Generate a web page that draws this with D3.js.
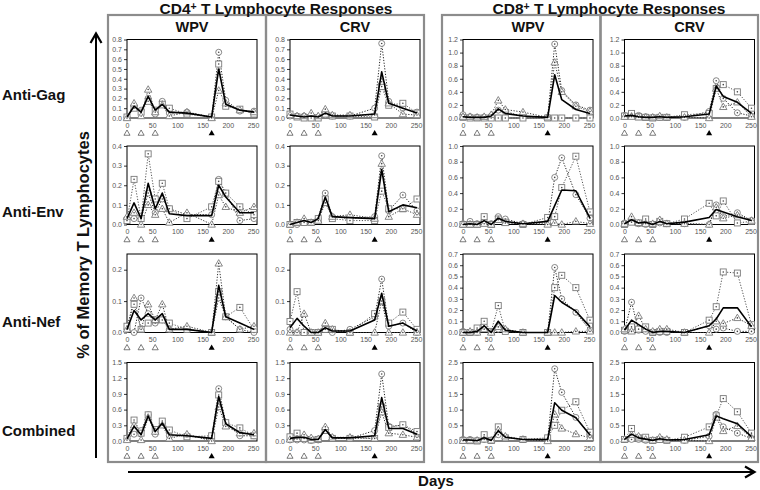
<!DOCTYPE html>
<html><head><meta charset="utf-8">
<script src="https://cdn.jsdelivr.net/npm/d3@7"></script>
<style>body{margin:0;background:#fff} svg{display:block;font-family:Arial,"Liberation Sans",sans-serif}</style>
</head><body><svg id="c" width="760" height="490"></svg>
<script>
const days = [0,14,28,42,56,70,84,119,168,182,196,224,252];
const xTicks = [0,50,100,150,200,250];
const primeDays = [0,28,56];
const boostDays = [168];
const rowNames = ["Anti-Gag","Anti-Env","Anti-Nef","Combined"];
const colNames = ["WPV","CRV","WPV","CRV"];
const yMaxCD4 = [0.8,0.4,0.25,1.5];
const yStepCD4 = [0.1,0.1,0.1,0.3];
const yMaxCD8 = [1.2,1.0,0.7,2.5];
const yStepCD8 = [0.2,0.2,0.1,0.5];
// each panel: [circle animal, square animal, triangle animal, mean]
const cd4WpvGag = [
 [0.01,0.12,0.08,0.20,0.04,0.17,0.05,0.06,0.01,0.67,0.18,0.07,0.07],
 [0.01,0.10,0.06,0.17,0.08,0.14,0.10,0.04,0.01,0.55,0.12,0.09,0.04],
 [0.00,0.15,0.02,0.29,0.06,0.13,0.02,0.06,0.00,0.28,0.15,0.08,0.06],
 [0.01,0.12,0.06,0.22,0.08,0.14,0.06,0.05,0.01,0.50,0.14,0.08,0.06]];
const cd4CrvGag = [
 [0.02,0.02,0.02,0.01,0.01,0.03,0.02,0.02,0.10,0.76,0.17,0.10,0.06],
 [0.04,0.01,0.00,0.00,0.00,0.04,0.02,0.02,0.01,0.32,0.13,0.15,0.05],
 [0.03,0.02,0.02,0.05,0.02,0.09,0.03,0.03,0.03,0.37,0.15,0.04,0.03],
 [0.03,0.02,0.01,0.02,0.01,0.05,0.02,0.02,0.04,0.47,0.15,0.10,0.05]];
const cd8WpvGag = [
 [0.05,0.02,0.01,0.01,0.03,0.12,0.10,0.02,0.01,1.13,0.42,0.20,0.12],
 [0.01,0.00,0.00,0.00,0.00,0.00,0.00,0.00,0.00,0.00,0.00,0.00,0.00],
 [0.02,0.02,0.01,0.02,0.05,0.27,0.13,0.09,0.01,0.85,0.40,0.18,0.10],
 [0.02,0.01,0.01,0.01,0.03,0.14,0.07,0.03,0.01,0.66,0.28,0.13,0.07]];
const cd8CrvGag = [
 [0.04,0.05,0.04,0.02,0.01,0.01,0.01,0.01,0.10,0.57,0.30,0.08,0.03],
 [0.03,0.07,0.02,0.01,0.00,0.01,0.01,0.05,0.07,0.45,0.51,0.40,0.15],
 [0.02,0.02,0.01,0.01,0.01,0.03,0.01,0.01,0.00,0.45,0.17,0.24,0.02],
 [0.03,0.04,0.02,0.01,0.01,0.02,0.01,0.02,0.06,0.49,0.33,0.24,0.07]];
const cd4WpvEnv = [
 [0.03,0.03,0.03,0.16,0.06,0.13,0.08,0.05,0.05,0.23,0.16,0.02,0.03],
 [0.02,0.23,0.03,0.36,0.13,0.21,0.08,0.03,0.09,0.22,0.16,0.09,0.05],
 [0.04,0.06,0.00,0.10,0.05,0.08,0.01,0.06,0.00,0.15,0.09,0.06,0.09],
 [0.03,0.11,0.03,0.21,0.08,0.16,0.055,0.045,0.045,0.20,0.14,0.06,0.06]];
const cd4CrvEnv = [
 [0.00,0.00,0.01,0.01,0.03,0.16,0.04,0.03,0.04,0.35,0.07,0.15,0.07],
 [0.00,0.01,0.01,0.01,0.03,0.13,0.03,0.02,0.02,0.17,0.08,0.08,0.13],
 [0.00,0.01,0.03,0.01,0.02,0.11,0.04,0.05,0.03,0.31,0.04,0.08,0.05],
 [0.00,0.01,0.02,0.01,0.03,0.14,0.04,0.035,0.03,0.28,0.065,0.10,0.085]];
const cd8WpvEnv = [
 [0.01,0.04,0.01,0.04,0.01,0.10,0.07,0.01,0.02,0.60,0.85,0.38,0.08],
 [0.00,0.00,0.00,0.10,0.00,0.07,0.03,0.00,0.09,0.10,0.47,0.87,0.16],
 [0.00,0.00,0.00,0.01,0.00,0.06,0.02,0.01,0.00,0.02,0.00,0.04,0.01],
 [0.00,0.01,0.00,0.05,0.00,0.08,0.04,0.01,0.04,0.24,0.44,0.43,0.08]];
const cd8CrvEnv = [
 [0.02,0.05,0.01,0.00,0.00,0.02,0.01,0.01,0.00,0.25,0.10,0.15,0.05],
 [0.00,0.03,0.02,0.07,0.00,0.04,0.01,0.07,0.27,0.11,0.30,0.02,0.04],
 [0.01,0.10,0.02,0.01,0.01,0.06,0.01,0.01,0.00,0.22,0.08,0.12,0.05],
 [0.01,0.06,0.02,0.03,0.00,0.04,0.01,0.03,0.09,0.19,0.16,0.10,0.05]];
const cd4WpvNef = [
 [0.01,0.00,0.11,0.06,0.03,0.04,0.01,0.01,0.00,0.11,0.05,0.01,0.00],
 [0.02,0.09,0.01,0.03,0.04,0.04,0.03,0.01,0.00,0.13,0.05,0.08,0.01],
 [0.01,0.11,0.01,0.09,0.04,0.09,0.01,0.02,0.00,0.22,0.05,0.01,0.02],
 [0.01,0.07,0.04,0.06,0.04,0.06,0.01,0.01,0.00,0.15,0.05,0.03,0.01]];
const cd4CrvNef = [
 [0.01,0.00,0.00,0.00,0.00,0.01,0.00,0.01,0.05,0.17,0.02,0.03,0.00],
 [0.035,0.13,0.00,0.00,0.00,0.01,0.01,0.00,0.06,0.10,0.03,0.065,0.01],
 [0.00,0.00,0.06,0.00,0.00,0.03,0.01,0.00,0.00,0.10,0.00,0.00,0.00],
 [0.015,0.045,0.02,0.00,0.00,0.015,0.005,0.005,0.04,0.125,0.02,0.03,0.005]];
const cd8WpvNef = [
 [0.01,0.00,0.00,0.06,0.00,0.03,0.02,0.00,0.00,0.58,0.30,0.18,0.02],
 [0.00,0.00,0.04,0.10,0.01,0.24,0.01,0.00,0.00,0.40,0.51,0.40,0.11],
 [0.00,0.01,0.00,0.03,0.00,0.05,0.03,0.00,0.00,0.00,0.00,0.01,0.01],
 [0.00,0.00,0.01,0.06,0.00,0.10,0.02,0.00,0.00,0.33,0.27,0.19,0.05]];
const cd8CrvNef = [
 [0.01,0.27,0.02,0.01,0.00,0.00,0.00,0.00,0.06,0.03,0.04,0.01,0.01],
 [0.02,0.05,0.03,0.05,0.00,0.01,0.01,0.00,0.11,0.23,0.54,0.53,0.07],
 [0.03,0.01,0.15,0.03,0.01,0.03,0.03,0.00,0.00,0.10,0.08,0.13,0.06],
 [0.02,0.11,0.07,0.03,0.00,0.01,0.01,0.00,0.06,0.12,0.22,0.22,0.05]];
const cd4WpvAll = [
 [0.04,0.13,0.20,0.50,0.13,0.33,0.10,0.10,0.03,1.00,0.35,0.10,0.10],
 [0.05,0.40,0.15,0.50,0.22,0.38,0.21,0.08,0.10,0.88,0.35,0.25,0.10],
 [0.02,0.30,0.02,0.45,0.18,0.30,0.05,0.13,0.00,0.65,0.28,0.15,0.15],
 [0.04,0.28,0.12,0.48,0.18,0.34,0.12,0.10,0.05,0.85,0.33,0.16,0.12]];
const cd4CrvAll = [
 [0.02,0.02,0.02,0.01,0.02,0.20,0.06,0.05,0.20,1.28,0.28,0.30,0.14],
 [0.08,0.15,0.05,0.02,0.03,0.20,0.05,0.05,0.05,0.65,0.26,0.31,0.18],
 [0.03,0.04,0.12,0.06,0.04,0.27,0.07,0.07,0.05,0.55,0.15,0.12,0.07],
 [0.05,0.07,0.07,0.03,0.03,0.22,0.06,0.06,0.10,0.83,0.24,0.24,0.13]];
const cd8WpvAll = [
 [0.05,0.05,0.02,0.05,0.02,0.20,0.10,0.05,0.05,2.30,1.55,0.75,0.20],
 [0.02,0.01,0.00,0.20,0.02,0.45,0.10,0.05,0.10,0.50,0.98,1.25,0.28],
 [0.01,0.02,0.02,0.05,0.02,0.35,0.15,0.05,0.00,0.85,0.40,0.22,0.10],
 [0.03,0.03,0.01,0.10,0.02,0.33,0.12,0.05,0.05,1.22,0.98,0.74,0.19]];
const cd8CrvAll = [
 [0.05,0.05,0.05,0.02,0.02,0.05,0.03,0.02,0.15,0.85,0.45,0.25,0.08],
 [0.05,0.40,0.10,0.12,0.02,0.05,0.02,0.12,0.45,0.80,1.35,0.93,0.25],
 [0.05,0.20,0.15,0.05,0.02,0.12,0.05,0.02,0.00,0.75,0.32,0.48,0.10],
 [0.05,0.22,0.10,0.06,0.02,0.07,0.03,0.05,0.20,0.80,0.71,0.55,0.14]];

const panelData = [
 [cd4WpvGag, cd4CrvGag, cd8WpvGag, cd8CrvGag],
 [cd4WpvEnv, cd4CrvEnv, cd8WpvEnv, cd8CrvEnv],
 [cd4WpvNef, cd4CrvNef, cd8WpvNef, cd8CrvNef],
 [cd4WpvAll, cd4CrvAll, cd8WpvAll, cd8CrvAll]];

const svg = d3.select("#c");
const colX = [127, 290, 463, 624.5], plotW = 130;
const rowY = [39.5, 146, 254, 362.5], plotH = 78.5;
const markerKinds = ["circle","square","triangle"];
const lineStyles = [
  {stroke:"#222", dash:"1.2,1.6", w:1},
  {stroke:"#555", dash:"1.2,1.6", w:1},
  {stroke:"#333", dash:"1.2,1.6", w:1}];

// group boxes
[[108,266],[266,424],[442,600.5],[600.5,758]].forEach(b => {
  svg.append("rect").attr("x", b[0]).attr("y", 15).attr("width", b[1]-b[0]).attr("height", 447)
    .attr("fill","none").attr("stroke","#8c8c8c").attr("stroke-width",2.2);
});

// titles
[["CD4", 276],["CD8", 609]].forEach(t => {
  const tx = svg.append("text").attr("x", t[1]).attr("y", 13.5).attr("text-anchor","middle")
    .attr("font-size", 15.5).attr("font-weight","bold").attr("fill","#111");
  tx.append("tspan").text(t[0]);
  tx.append("tspan").attr("dy",-3.5).attr("font-size",10.5).text("+");
  tx.append("tspan").attr("dy",3.5).text(" T Lymphocyte Responses");
});
colNames.forEach((n,i) => {
  svg.append("text").attr("x", colX[i]+plotW/2).attr("y", 31.5).attr("text-anchor","middle")
    .attr("font-size",14.5).attr("font-weight","bold").attr("fill","#111").text(n);
});
const rowLabelY = [100, 217, 327, 436];
rowNames.forEach((n,i) => {
  svg.append("text").attr("x", 2).attr("y", rowLabelY[i]).attr("font-size",15)
    .attr("font-weight","bold").attr("fill","#111").text(n);
});

// axis arrows
svg.append("line").attr("x1",96).attr("x2",96).attr("y1",458).attr("y2",35).attr("stroke","#000").attr("stroke-width",2);
svg.append("path").attr("d","M90.5,43 L96,33.5 L101.5,43").attr("fill","none").attr("stroke","#000").attr("stroke-width",2.2);
svg.append("line").attr("x1",128).attr("x2",753).attr("y1",472).attr("y2",472).attr("stroke","#000").attr("stroke-width",2);
svg.append("path").attr("d","M745,466.5 L754.5,472 L745,477.5").attr("fill","none").attr("stroke","#000").attr("stroke-width",2.2);
svg.append("text").attr("transform","translate(89,245) rotate(-90)").attr("text-anchor","middle")
  .attr("font-size",16.5).attr("font-weight","bold").attr("fill","#111").text("% of Memory T Lymphocytes");
svg.append("text").attr("x",436).attr("y",486).attr("text-anchor","middle")
  .attr("font-size",15).attr("font-weight","bold").attr("fill","#111").text("Days");

function drawMarker(g, kind, cx, cy) {
  const col = "#7a7a7a";
  if (kind === "circle") {
    g.append("circle").attr("cx",cx).attr("cy",cy).attr("r",3).attr("fill","#fff").attr("stroke",col).attr("stroke-width",0.9);
  } else if (kind === "square") {
    g.append("rect").attr("x",cx-3).attr("y",cy-3).attr("width",6).attr("height",6).attr("fill","#fff").attr("stroke",col).attr("stroke-width",0.9);
  } else {
    g.append("path").attr("d", d3.symbol(d3.symbolTriangle, 24)()).attr("transform",`translate(${cx},${cy+0.5})`)
      .attr("fill","#fff").attr("stroke",col).attr("stroke-width",0.9);
  }
  g.append("circle").attr("cx",cx).attr("cy",cy).attr("r",0.8).attr("fill","#444");
}

panelData.forEach((row, r) => {
  row.forEach((series, c) => {
    const isCD8 = c >= 2;
    const yMax = isCD8 ? yMaxCD8[r] : yMaxCD4[r];
    const step = isCD8 ? yStepCD8[r] : yStepCD4[r];
    const x = d3.scaleLinear().domain([0,258]).range([colX[c], colX[c]+plotW]);
    const y = d3.scaleLinear().domain([0,yMax]).range([rowY[r]+plotH, rowY[r]]);
    const g = svg.append("g");
    const nT = Math.floor(yMax/step + 1e-6);
    const yTicks = d3.range(0, nT+1).map(i => +(i*step).toFixed(3));
    const ya = g.append("g").attr("transform",`translate(${colX[c]},0)`)
      .call(d3.axisLeft(y).tickValues(yTicks).tickSize(3).tickPadding(2).tickFormat(d3.format(".1f")));
    ya.select(".domain").remove();
    ya.selectAll("line").attr("stroke","#000").attr("stroke-width",0.8);
    ya.selectAll("text").attr("font-size",7).attr("fill","#555").attr("font-family","Arial, 'Liberation Sans', sans-serif");
    const xa = g.append("g").attr("transform",`translate(0,${rowY[r]+plotH})`)
      .call(d3.axisBottom(x).tickValues(xTicks).tickSize(0).tickPadding(5).tickFormat(d3.format("d")));
    xa.select(".domain").remove();
    xa.selectAll("text").attr("font-size",7).attr("fill","#555").attr("font-family","Arial, 'Liberation Sans', sans-serif");
    // frame
    g.append("rect").attr("x",colX[c]).attr("y",rowY[r]).attr("width",plotW).attr("height",plotH)
      .attr("fill","none").attr("stroke","#000").attr("stroke-width",1);
    // immunization markers
    const ty = rowY[r]+plotH+15.5;
    primeDays.forEach(d => g.append("path").attr("d", d3.symbol(d3.symbolTriangle, 16)())
      .attr("transform",`translate(${x(d)},${ty})`).attr("fill","#fff").attr("stroke","#444").attr("stroke-width",0.7));
    boostDays.forEach(d => g.append("path").attr("d", d3.symbol(d3.symbolTriangle, 16)())
      .attr("transform",`translate(${x(d)},${ty})`).attr("fill","#000"));
    const line = d3.line().x((v,i) => x(days[i])).y(v => y(v));
    for (let s = 0; s < 3; s++) {
      g.append("path").attr("d", line(series[s])).attr("fill","none")
        .attr("stroke", lineStyles[s].stroke).attr("stroke-width", lineStyles[s].w)
        .attr("stroke-dasharray", lineStyles[s].dash);
    }
    for (let s = 0; s < 3; s++) {
      series[s].forEach((v,i) => drawMarker(g, markerKinds[s], x(days[i]), y(v)));
    }
    g.append("path").attr("d", line(series[3])).attr("fill","none")
      .attr("stroke","#000").attr("stroke-width",1.6).attr("stroke-linejoin","round");
  });
});
</script></body></html>
